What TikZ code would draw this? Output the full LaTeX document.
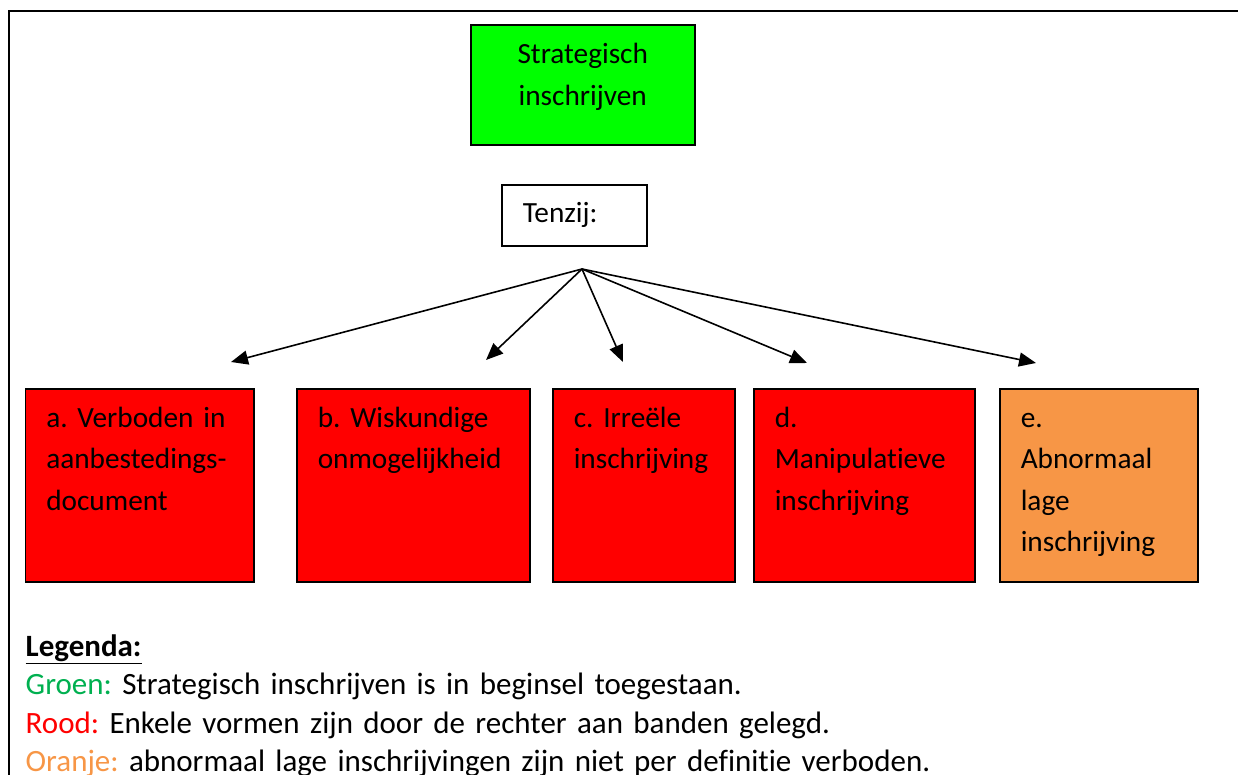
\documentclass[tikz,border=0pt]{standalone}
\usepackage{fontspec}
\setmainfont{Carlito}[Ligatures=NoCommon]
\usepackage{xcolor}
\usepackage{tikz}
\usetikzlibrary{arrows.meta}

\definecolor{boxgroen}{HTML}{00FF00}
\definecolor{boxrood}{HTML}{FF0000}
\definecolor{boxoranje}{HTML}{F79646}
\definecolor{leggroen}{HTML}{00B050}
\lefthyphenmin=64
\frenchspacing

\begin{document}
\begin{tikzpicture}[x=1pt,y=-1pt,
  kader/.style={draw,line width=1.5pt,anchor=north west,align=left,inner xsep=21pt,inner ysep=0pt,
    text height=38.7pt,text depth=154.3pt,font=\fontsize{29.3}{41.3}\selectfont},
  arr/.style={-{Triangle[length=17pt,width=14pt]},line width=1.6pt}
]
\useasboundingbox (0,0) rectangle (1238,774);
\clip (0,0) rectangle (1238,774);
\draw[line width=2.5pt] (1250,11) -- (9,11) -- (9,790);

\node[kader,fill=boxgroen,align=center,inner xsep=10pt,text width=204pt,
  text height=39pt,text depth=81pt] (strategisch) at (470,24)
  {Strategisch\\inschrijven};
\node[kader,fill=white,inner xsep=21pt,text width=103pt,
  text height=38pt,text depth=23pt] (tenzij) at (501,184) {Tenzij:};

\node[kader,fill=boxrood,text width=186.5pt] (verboden) at (24.5,388)
  {a. Verboden in\\aanbestedings-\\document};
\node[kader,fill=boxrood,text width=191pt] (wiskundig) at (296,388)
  {b. Wiskundige\\onmogelijkheid};
\node[kader,fill=boxrood,text width=140pt] (irreeel) at (552,388)
  {c. Irreële\\inschrijving};
\node[kader,fill=boxrood,text width=179pt] (manipulatief) at (753,388)
  {d.\\Manipulatieve\\inschrijving};
\node[kader,fill=boxoranje,text width=156pt] (abnormaal) at (999,388)
  {e.\\Abnormaal\\lage\\inschrijving};

\coordinate (hub) at (582,269);
\coordinate (pa) at (231,362);
\coordinate (pb) at (486,360);
\coordinate (pc) at (623,362);
\coordinate (pd) at (807,363);
\coordinate (pe) at (1036,363);
\foreach \p in {pa,pb,pc,pd,pe}
  \draw[arr] (hub) -- (\p);

\node[anchor=north west,align=left,inner sep=0pt,text width=1150pt,text height=20pt,
  font=\fontsize{31}{38.5}\selectfont] (legenda) at (25.5,636)
  {\underline{\textbf{Legenda:}}\\
   \textcolor{leggroen}{Groen:} Strategisch inschrijven is in beginsel toegestaan.\\
   \textcolor{boxrood}{Rood:} Enkele vormen zijn door de rechter aan banden gelegd.\\
   \textcolor{boxoranje}{Oranje:} abnormaal lage inschrijvingen zijn niet per definitie verboden.};
\end{tikzpicture}
\end{document}
